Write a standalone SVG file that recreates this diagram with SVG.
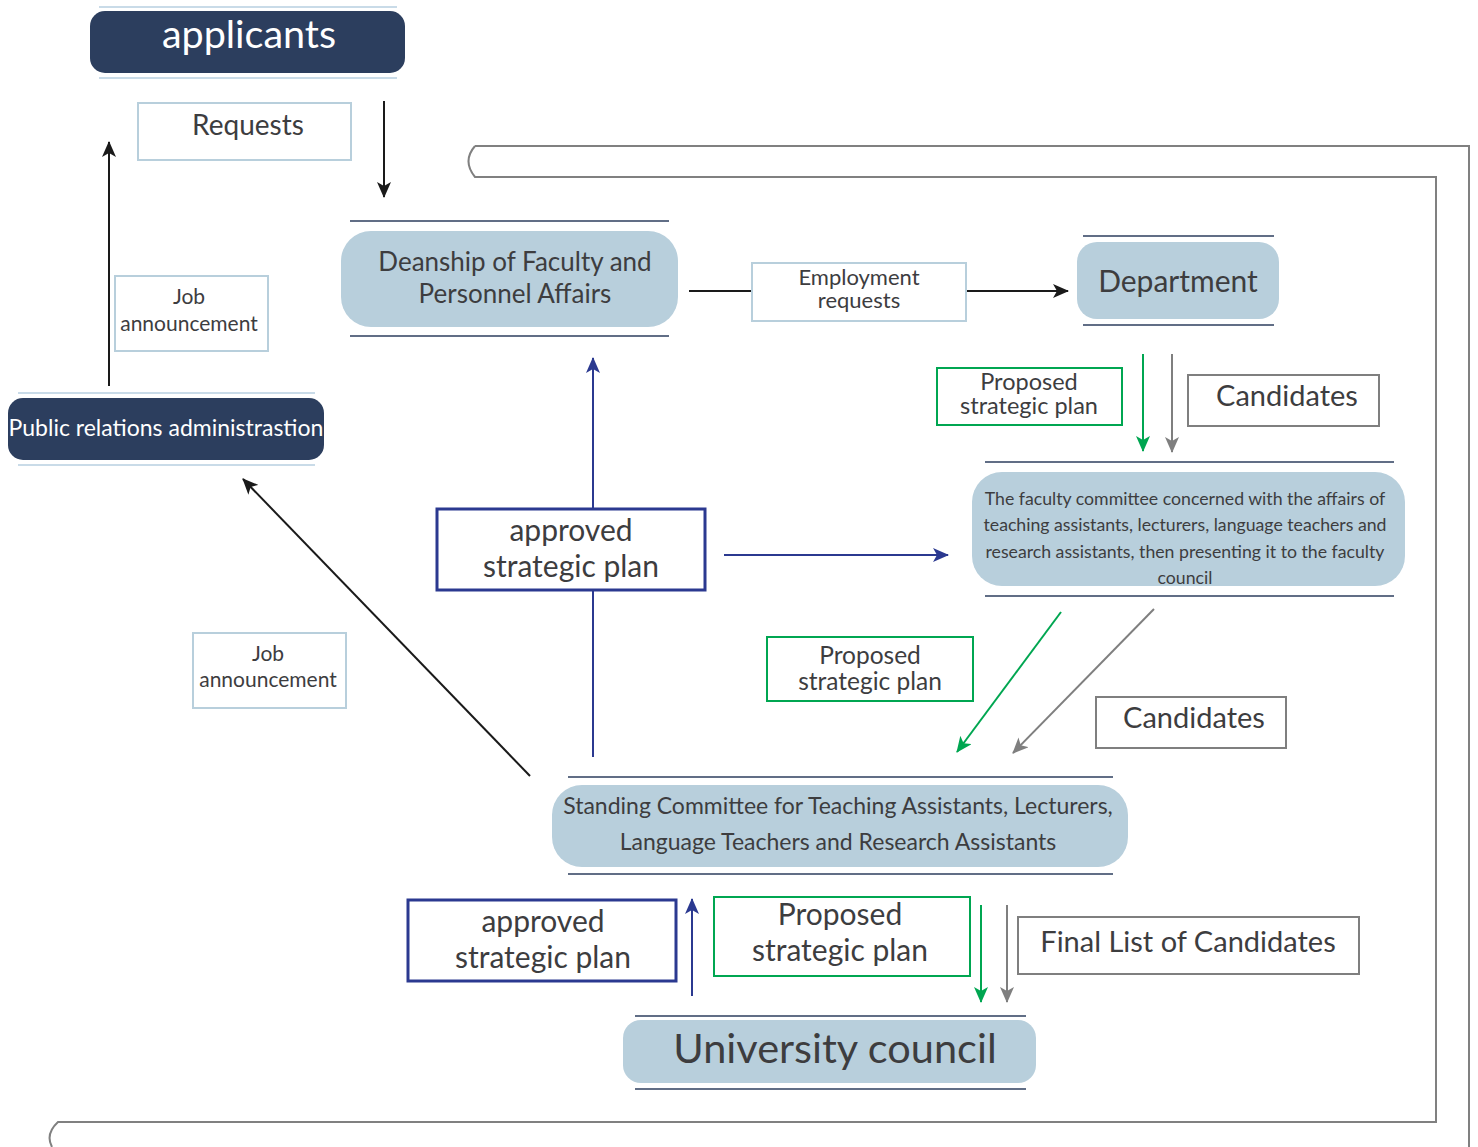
<svg xmlns="http://www.w3.org/2000/svg" width="1478" height="1147" viewBox="0 0 1478 1147">
<defs>
<style>
text{font-family:Lato,"Liberation Sans",sans-serif;fill:#3d3d3f;text-anchor:middle}
.dark{fill:#2c3e5e}
.light{fill:#b8cfdc}
.wt{fill:#ffffff}
.lbl{fill:#ffffff;stroke:#b8cfdc;stroke-width:2}
.grn{fill:#ffffff;stroke:#00a651;stroke-width:2}
.gry{fill:#ffffff;stroke:#7f7f7f;stroke-width:2}
.blu{fill:#ffffff;stroke:#2b3990;stroke-width:3}
.navyline{stroke:#2c3e5e;stroke-width:1.5}
.paleline{stroke:#c9dbe8;stroke-width:2}
.frame{fill:none;stroke:#808080;stroke-width:2}
</style>
<marker id="ak" markerUnits="userSpaceOnUse" markerWidth="16" markerHeight="14" refX="15" refY="7" orient="auto"><path d="M0,0 L16,7 L0,14 L4,7 Z" fill="#1a1a1a"/></marker>
<marker id="ab" markerUnits="userSpaceOnUse" markerWidth="16" markerHeight="14" refX="15" refY="7" orient="auto"><path d="M0,0 L16,7 L0,14 L4,7 Z" fill="#2b3990"/></marker>
<marker id="ag" markerUnits="userSpaceOnUse" markerWidth="16" markerHeight="14" refX="15" refY="7" orient="auto"><path d="M0,0 L16,7 L0,14 L4,7 Z" fill="#00a651"/></marker>
<marker id="ay" markerUnits="userSpaceOnUse" markerWidth="16" markerHeight="14" refX="15" refY="7" orient="auto"><path d="M0,0 L16,7 L0,14 L4,7 Z" fill="#7f7f7f"/></marker>
</defs>
<rect width="1478" height="1147" fill="#ffffff"/>

<g id="frame">
<path class="frame" d="M475,146 L1469,146 L1469,1147"/>
<path class="frame" d="M475,146 Q462,161 475,177 L1436,177 L1436,1122 L58,1122 Q45,1134 52,1147"/>
</g>

<g id="connectors">
<line x1="384" y1="101" x2="384" y2="197" stroke="#1a1a1a" stroke-width="2" marker-end="url(#ak)"/>
<line x1="109" y1="386" x2="109" y2="142" stroke="#1a1a1a" stroke-width="2" marker-end="url(#ak)"/>
<line x1="689" y1="291" x2="752" y2="291" stroke="#1a1a1a" stroke-width="2"/>
<line x1="966" y1="291" x2="1068" y2="291" stroke="#1a1a1a" stroke-width="2" marker-end="url(#ak)"/>
<line x1="1143" y1="354" x2="1143" y2="451" stroke="#00a651" stroke-width="2" marker-end="url(#ag)"/>
<line x1="1172" y1="354" x2="1172" y2="452" stroke="#7f7f7f" stroke-width="2" marker-end="url(#ay)"/>
<line x1="593" y1="757" x2="593" y2="358" stroke="#2b3990" stroke-width="2" marker-end="url(#ab)"/>
<line x1="724" y1="555" x2="948" y2="555" stroke="#2b3990" stroke-width="2" marker-end="url(#ab)"/>
<line x1="530" y1="776" x2="243" y2="479" stroke="#1a1a1a" stroke-width="2" marker-end="url(#ak)"/>
<line x1="1061" y1="612" x2="957" y2="752" stroke="#00a651" stroke-width="2" marker-end="url(#ag)"/>
<line x1="1154" y1="609" x2="1013" y2="753" stroke="#7f7f7f" stroke-width="2" marker-end="url(#ay)"/>
<line x1="692" y1="996" x2="692" y2="899" stroke="#2b3990" stroke-width="2" marker-end="url(#ab)"/>
<line x1="981" y1="905" x2="981" y2="1002" stroke="#00a651" stroke-width="2" marker-end="url(#ag)"/>
<line x1="1007" y1="905" x2="1007" y2="1002" stroke="#7f7f7f" stroke-width="2" marker-end="url(#ay)"/>
</g>

<g id="applicants">
<line class="paleline" x1="99" y1="7" x2="397" y2="7"/>
<rect class="dark" x="90" y="11" width="315" height="62" rx="15"/>
<line class="paleline" x1="99" y1="78" x2="397" y2="78"/>
<text class="wt" x="249" y="48" font-size="39.5">applicants</text>
</g>

<g id="lbl-requests">
<rect class="lbl" x="138" y="103" width="213" height="57"/>
<text x="248" y="135" font-size="28">Requests</text>
</g>

<g id="lbl-job1">
<rect class="lbl" x="115" y="276" width="153" height="75"/>
<text x="189" y="304" font-size="21">Job</text>
<text x="189" y="331" font-size="21">announcement</text>
</g>

<g id="deanship">
<line class="navyline" x1="350" y1="221" x2="669" y2="221"/>
<rect class="light" x="341" y="231" width="337" height="96" rx="30"/>
<line class="navyline" x1="350" y1="336" x2="669" y2="336"/>
<text x="515" y="271" font-size="26">Deanship of Faculty and</text>
<text x="515" y="303" font-size="26">Personnel Affairs</text>
</g>

<g id="lbl-employment">
<rect class="lbl" x="752" y="263" width="214" height="58"/>
<text x="859" y="285" font-size="22">Employment</text>
<text x="859" y="308" font-size="22">requests</text>
</g>

<g id="department">
<line class="navyline" x1="1083" y1="236" x2="1274" y2="236"/>
<rect class="light" x="1077" y="242" width="202" height="77" rx="20"/>
<line class="navyline" x1="1083" y1="325" x2="1274" y2="325"/>
<text x="1178" y="292" font-size="30">Department</text>
</g>

<g id="lbl-proposed1">
<rect class="grn" x="937" y="368" width="185" height="57"/>
<text x="1029" y="390" font-size="23.5">Proposed</text>
<text x="1029" y="414" font-size="23.5">strategic plan</text>
</g>

<g id="lbl-candidates1">
<rect class="gry" x="1188" y="375" width="191" height="51"/>
<text x="1287" y="406" font-size="29">Candidates</text>
</g>

<g id="faculty-committee">
<line class="navyline" x1="985" y1="462" x2="1394" y2="462"/>
<rect class="light" x="972" y="472" width="433" height="114" rx="30"/>
<line class="navyline" x1="985" y1="596" x2="1394" y2="596"/>
<text x="1185" y="505" font-size="17.7">The faculty committee concerned with the affairs of</text>
<text x="1185" y="531" font-size="17.7">teaching assistants, lecturers, language teachers and</text>
<text x="1185" y="558" font-size="17.7">research assistants, then presenting it to the faculty</text>
<text x="1185" y="584" font-size="17.7">council</text>
</g>

<g id="public-relations">
<line class="paleline" x1="18" y1="393" x2="315" y2="393"/>
<rect class="dark" x="8" y="398" width="316" height="62" rx="15"/>
<line class="paleline" x1="18" y1="465" x2="315" y2="465"/>
<text class="wt" x="166" y="436" font-size="23">Public relations administrastion</text>
</g>

<g id="lbl-approved1">
<rect class="blu" x="437" y="509" width="268" height="81"/>
<text x="571" y="541" font-size="30">approved</text>
<text x="571" y="577" font-size="30">strategic plan</text>
</g>

<g id="lbl-job2">
<rect class="lbl" x="193" y="633" width="153" height="75"/>
<text x="268" y="661" font-size="21">Job</text>
<text x="268" y="687" font-size="21">announcement</text>
</g>

<g id="lbl-proposed2">
<rect class="grn" x="767" y="637" width="206" height="64"/>
<text x="870" y="664" font-size="24.5">Proposed</text>
<text x="870" y="690" font-size="24.5">strategic plan</text>
</g>

<g id="lbl-candidates2">
<rect class="gry" x="1096" y="697" width="190" height="51"/>
<text x="1194" y="728" font-size="29">Candidates</text>
</g>

<g id="standing-committee">
<line class="navyline" x1="568" y1="777" x2="1113" y2="777"/>
<rect class="light" x="552" y="785" width="576" height="82" rx="30"/>
<line class="navyline" x1="568" y1="874" x2="1113" y2="874"/>
<text x="838" y="814" font-size="23">Standing Committee for Teaching Assistants, Lecturers,</text>
<text x="838" y="850" font-size="23">Language Teachers and Research Assistants</text>
</g>

<g id="lbl-approved2">
<rect class="blu" x="408" y="900" width="268" height="81"/>
<text x="543" y="932" font-size="30">approved</text>
<text x="543" y="968" font-size="30">strategic plan</text>
</g>

<g id="lbl-proposed3">
<rect class="grn" x="714" y="897" width="256" height="79"/>
<text x="840" y="925" font-size="30">Proposed</text>
<text x="840" y="961" font-size="30">strategic plan</text>
</g>

<g id="lbl-final">
<rect class="gry" x="1018" y="917" width="341" height="57"/>
<text x="1188" y="952" font-size="29">Final List of Candidates</text>
</g>

<g id="university-council">
<line class="navyline" x1="635" y1="1016" x2="1026" y2="1016"/>
<rect class="light" x="623" y="1020" width="413" height="63" rx="18"/>
<line class="navyline" x1="635" y1="1089" x2="1026" y2="1089"/>
<text x="835" y="1063" font-size="41.5">University council</text>
</g>
</svg>
